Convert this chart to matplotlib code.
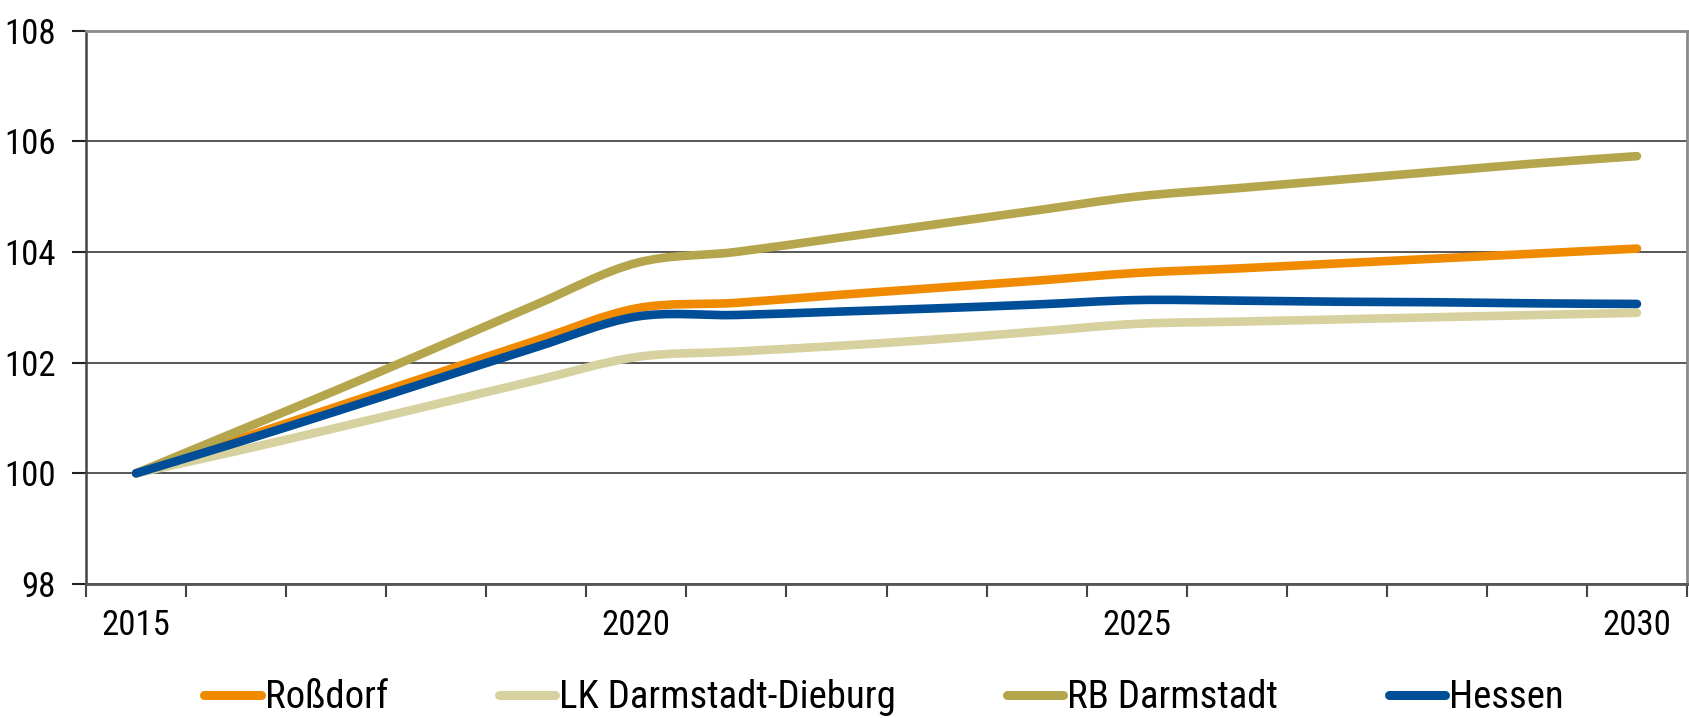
import matplotlib
matplotlib.use("Agg")
import matplotlib.pyplot as plt
from matplotlib.path import Path
from matplotlib.patches import PathPatch
from matplotlib.lines import Line2D
import numpy as np

# Arial Narrow look-alike
plt.rcParams['font.family'] = ['Roboto Condensed', 'Archivo Narrow', 'Liberation Sans', 'DejaVu Sans']

# data
years = list(range(2015, 2031))
rossdorf = [100.0, 100.6, 101.2, 101.8, 102.4, 102.98, 103.08, 103.22, 103.35, 103.48,
            103.62, 103.7, 103.79, 103.88, 103.97, 104.06]
lk_dadi = [100.0, 100.4, 100.82, 101.25, 101.68, 102.1, 102.2, 102.3, 102.42, 102.56,
           102.7, 102.74, 102.78, 102.82, 102.86, 102.9]
rb_da = [100.0, 100.75, 101.5, 102.27, 103.05, 103.8, 104.0, 104.25, 104.5, 104.75,
         105.0, 105.15, 105.3, 105.45, 105.6, 105.73]
hessen = [100.0, 100.55, 101.12, 101.7, 102.28, 102.83, 102.86, 102.92, 102.98, 103.05,
          103.13, 103.12, 103.1, 103.09, 103.07, 103.06]

names = ['Roßdorf', 'LK Darmstadt-Dieburg', 'RB Darmstadt', 'Hessen']
series = [rossdorf, lk_dadi, rb_da, hessen]
colors = ['#F08A00', '#D6D19E', '#B5A54C', '#004E98']
LW = 6.2


def smooth_path(x, y):
    # excel-like smoothing: cubic bezier with catmull-rom tangents
    x = np.asarray(x, float)
    y = np.asarray(y, float)
    verts = [(x[0], y[0])]
    codes = [Path.MOVETO]
    n = len(x)
    for i in range(n - 1):
        i0 = max(i - 1, 0)
        i3 = min(i + 2, n - 1)
        c1 = (x[i] + (x[i + 1] - x[i0]) / 6, y[i] + (y[i + 1] - y[i0]) / 6)
        c2 = (x[i + 1] - (x[i3] - x[i]) / 6, y[i + 1] - (y[i3] - y[i]) / 6)
        verts += [c1, c2, (x[i + 1], y[i + 1])]
        codes += [Path.CURVE4] * 3
    return Path(verts, codes)


fig = plt.figure(figsize=(16.9, 7.18), dpi=100)
ax = fig.add_axes([86 / 1690, 1 - 584 / 718, (1687 - 86) / 1690, (584 - 30.5) / 718])

handles = []
for vals, name, col in zip(series, names, colors):
    patch = PathPatch(smooth_path(years, vals), facecolor='none', edgecolor=col,
                      lw=LW, capstyle='round', joinstyle='round', zorder=3)
    ax.add_patch(patch)
    handles.append(Line2D([], [], color=col, lw=6.5, solid_capstyle='round', label=name))

ax.set_xlim(2014.5, 2030.5)
ax.set_ylim(98, 108)
ax.set_yticks([98, 100, 102, 104, 106, 108])

ax.set_xticks([2015, 2020, 2025, 2030])
ax.set_xticks(np.arange(2014.5, 2031, 1), minor=True)
ax.tick_params(axis='x', which='major', length=0, pad=18, labelsize=25)
ax.tick_params(axis='x', which='minor', length=9, width=1.5, color='#444444', direction='out')
ax.tick_params(axis='y', length=10, width=1.5, color='#222222', pad=12, labelsize=25)

ax.grid(axis='y', color='#3a3a3a', lw=1.2, zorder=1)
ax.spines['left'].set_color('#444444')
ax.spines['left'].set_linewidth(1.8)
ax.spines['bottom'].set_color('#555555')
ax.spines['bottom'].set_linewidth(2)
ax.spines['top'].set_color('#8a8a8a')
ax.spines['top'].set_linewidth(2)
ax.spines['right'].set_color('#8a8a8a')
ax.spines['right'].set_linewidth(2)

fig.legend(handles=handles, loc='center', bbox_to_anchor=(0.523, 1 - 698 / 718), ncol=4,
           frameon=False, fontsize=28, handlelength=1.45, handletextpad=0.1,
           columnspacing=2.85, borderaxespad=0)

fig.savefig('out.png', dpi=100)
